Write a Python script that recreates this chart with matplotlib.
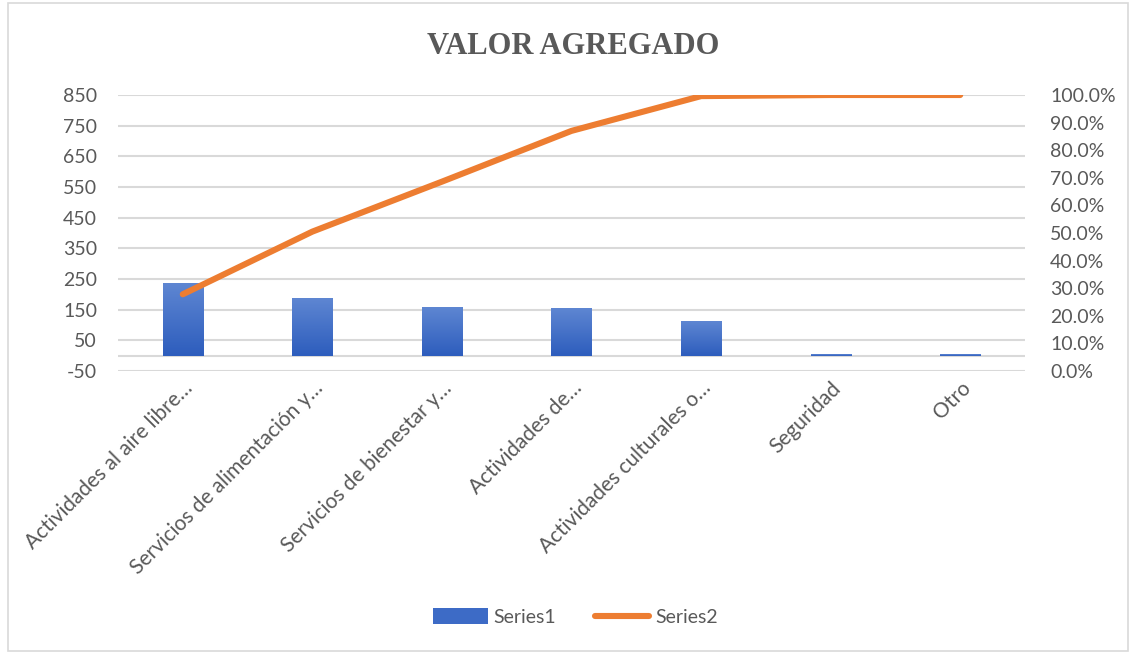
import matplotlib
matplotlib.use("Agg")
import numpy as np
import matplotlib.pyplot as plt
from matplotlib.patches import Patch, Rectangle
from matplotlib.lines import Line2D
from matplotlib.ticker import FuncFormatter
from matplotlib.colors import LinearSegmentedColormap

categories = [
    "Actividades al aire libre…",
    "Servicios de alimentación y…",
    "Servicios de bienestar y…",
    "Actividades de…",
    "Actividades culturales o…",
    "Seguridad",
    "Otro",
]
series1 = [237, 188, 159, 155, 111, 5, 4]
series2 = [0.278, 0.505, 0.686, 0.870, 0.996, 1.0, 1.0]
left_ticks = [-50, 50, 150, 250, 350, 450, 550, 650, 750, 850]
right_ticks = [0.0, 0.1, 0.2, 0.3, 0.4, 0.5, 0.6, 0.7, 0.8, 0.9, 1.0]
title = "VALOR AGREGADO"

txt = "#595959"
grid = "#d9d9d9"
bar_c = "#3d6bc6"
line_c = "#ED7D31"
font = "Lato"
grad = LinearSegmentedColormap.from_list("g", ["#2d5dbd", "#5e86d2"])

fig = plt.figure(figsize=(11.35, 6.54), dpi=100)
ax = fig.add_axes([118/1135, 1-371/654, (1025-118)/1135, (371-95)/654])
ax2 = ax.twinx()

x = list(range(len(categories)))
bars = ax.bar(x, series1, width=0.31, color=bar_c, zorder=3)
ax.set_xlim(-0.5, len(categories) - 0.5)
ax.set_ylim(-50, 850)
gimg = np.linspace(0, 1, 100).reshape(-1, 1)
for b in bars:
    x0, y0, w, h = b.get_x(), b.get_y(), b.get_width(), b.get_height()
    b.set_facecolor("none")
    ax.imshow(gimg, cmap=grad, origin="lower", extent=(x0, x0 + w, y0, y0 + h),
              aspect="auto", zorder=3, interpolation="bilinear")
ax.set_xlim(-0.5, len(categories) - 0.5)
ax.set_ylim(-50, 850)
ax.set_yticks(left_ticks)
ax.set_yticklabels([str(v) for v in left_ticks], fontfamily=font, fontsize=14, color=txt)
ax.yaxis.grid(True, color=grid, linewidth=1.5, zorder=0)
ax.axhline(0, color=grid, linewidth=1.5, zorder=1)
ax.set_axisbelow(True)
ax.set_xticks(x)
ax.set_xticklabels(categories, rotation=45, ha="right", va="top", rotation_mode="anchor",
                   fontfamily=font, fontsize=15, color=txt)
ax.tick_params(axis="x", length=0, pad=5)
ax.tick_params(axis="y", length=0, pad=15)
for s in ax.spines.values():
    s.set_visible(False)

ax2.plot(x, series2, color=line_c, linewidth=4.4, solid_capstyle="round",
         solid_joinstyle="round", zorder=4)
ax2.set_ylim(0, 1)
ax2.set_yticks(right_ticks)
ax2.yaxis.set_major_formatter(FuncFormatter(lambda v, p: f"{v*100:.1f}%"))
for lab in ax2.get_yticklabels():
    lab.set_fontfamily(font)
ax2.tick_params(axis="y", length=0, pad=18, labelsize=14, labelcolor=txt)
for s in ax2.spines.values():
    s.set_visible(False)

fig.text(573/1135, 1-46/654, title, ha="center", va="center",
         fontfamily="Liberation Serif", fontweight="bold", fontsize=22, color=txt)

handles = [Patch(facecolor=bar_c, edgecolor="none"),
           Line2D([0], [0], color=line_c, linewidth=4.4, solid_capstyle="round")]
fig.legend(handles, ["Series1", "Series2"], loc="center", bbox_to_anchor=(0.507, 1-617/654),
           ncol=2, frameon=False, prop={"family": font, "size": 14}, labelcolor=txt,
           handlelength=2.8, handleheight=0.9, columnspacing=2.0, handletextpad=0.3)

fig.patches.append(Rectangle((8/1135, 3/654), 1120/1135, 648/654, transform=fig.transFigure,
                             fill=False, edgecolor="#d9d9d9", linewidth=1.2))

fig.savefig("out.png", dpi=100)
